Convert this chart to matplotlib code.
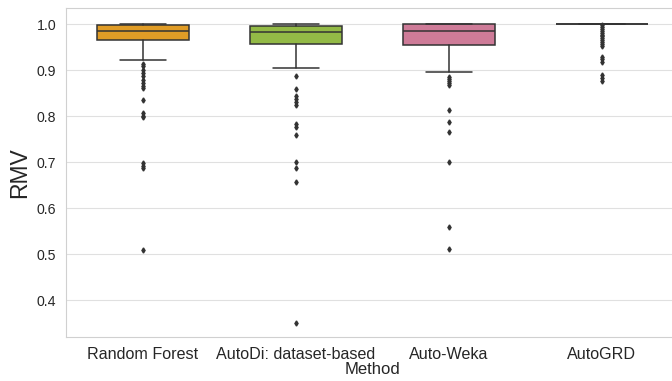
import matplotlib
matplotlib.use("Agg")
import matplotlib.pyplot as plt
import seaborn as sns

sns.set_style("whitegrid", {"grid.color": "#e0e0e0", "axes.edgecolor": "#d0d0d0"})
plt.rcParams['font.family'] = ['Liberation Sans', 'DejaVu Sans']

methods = ["Random Forest", "AutoDi: dataset-based", "Auto-Weka", "AutoGRD"]
colors = ["#E09C26", "#93BA46", "#CE7B98", "#5B8FC9"]

q1 = [0.965, 0.956, 0.954, 1.0]
med = [0.985, 0.982, 0.985, 1.0]
q3 = [0.997, 0.995, 1.0, 1.0]
whislo = [0.921, 0.904, 0.895, 1.0]
whishi = [1.0, 1.0, 1.0, 1.0]

fliers_rf = [0.913, 0.908, 0.900, 0.893, 0.886, 0.879, 0.872, 0.866, 0.861,
             0.834, 0.806, 0.801, 0.797, 0.697, 0.692, 0.687, 0.508]
fliers_ad = [0.888, 0.859, 0.843, 0.836, 0.830, 0.825, 0.782, 0.777, 0.758,
             0.699, 0.688, 0.657, 0.351]
fliers_aw = [0.885, 0.880, 0.876, 0.871, 0.867, 0.812, 0.786, 0.766, 0.699,
             0.559, 0.511]
fliers_ag = [0.997, 0.993, 0.989, 0.985, 0.981, 0.977, 0.973, 0.969, 0.965,
             0.961, 0.957, 0.953, 0.929, 0.924, 0.918, 0.889, 0.883, 0.877]
fliers = [fliers_rf, fliers_ad, fliers_aw, fliers_ag]

fig = plt.figure(figsize=(6.72, 3.81), dpi=100)
ax = fig.add_axes([0.0985, 0.1155, 0.911, 0.8635])

stats = []
for i, m in enumerate(methods):
    stats.append(dict(label=m, q1=q1[i], med=med[i], q3=q3[i],
                      whislo=whislo[i], whishi=whishi[i], fliers=fliers[i]))

lc = "#333333"
lw = 1.1
bp = ax.bxp(stats, positions=range(len(methods)), widths=0.6,
            patch_artist=True, manage_ticks=False,
            boxprops=dict(edgecolor=lc, linewidth=lw),
            medianprops=dict(color=lc, linewidth=lw),
            whiskerprops=dict(color=lc, linewidth=lw),
            capprops=dict(color=lc, linewidth=lw),
            flierprops=dict(marker='d', markersize=2.6, markerfacecolor=lc,
                            markeredgecolor=lc, linestyle='none'))
for patch, c in zip(bp['boxes'], colors):
    patch.set_facecolor(c)
for cap in bp['caps']:
    x = cap.get_xdata()
    mid = (x[0] + x[1]) / 2
    cap.set_xdata([mid - 0.15, mid + 0.15])

ax.set_xticks(range(len(methods)))
ax.set_xticklabels(methods, fontsize=11.6, color="#262626")
ax.set_xlim(-0.5, 3.5)
ax.set_ylim(0.3196, 1.0348)
ax.set_yticks([0.4, 0.5, 0.6, 0.7, 0.8, 0.9, 1.0])
ax.tick_params(axis='y', labelsize=10.2, colors="#262626")
ax.set_xlabel("Method", fontsize=12, labelpad=0, color="#262626")
ax.set_ylabel("RMV", fontsize=16.5, color="#262626")
ax.xaxis.grid(False)
ax.set_axisbelow(True)

fig.savefig("out.png", dpi=100)
